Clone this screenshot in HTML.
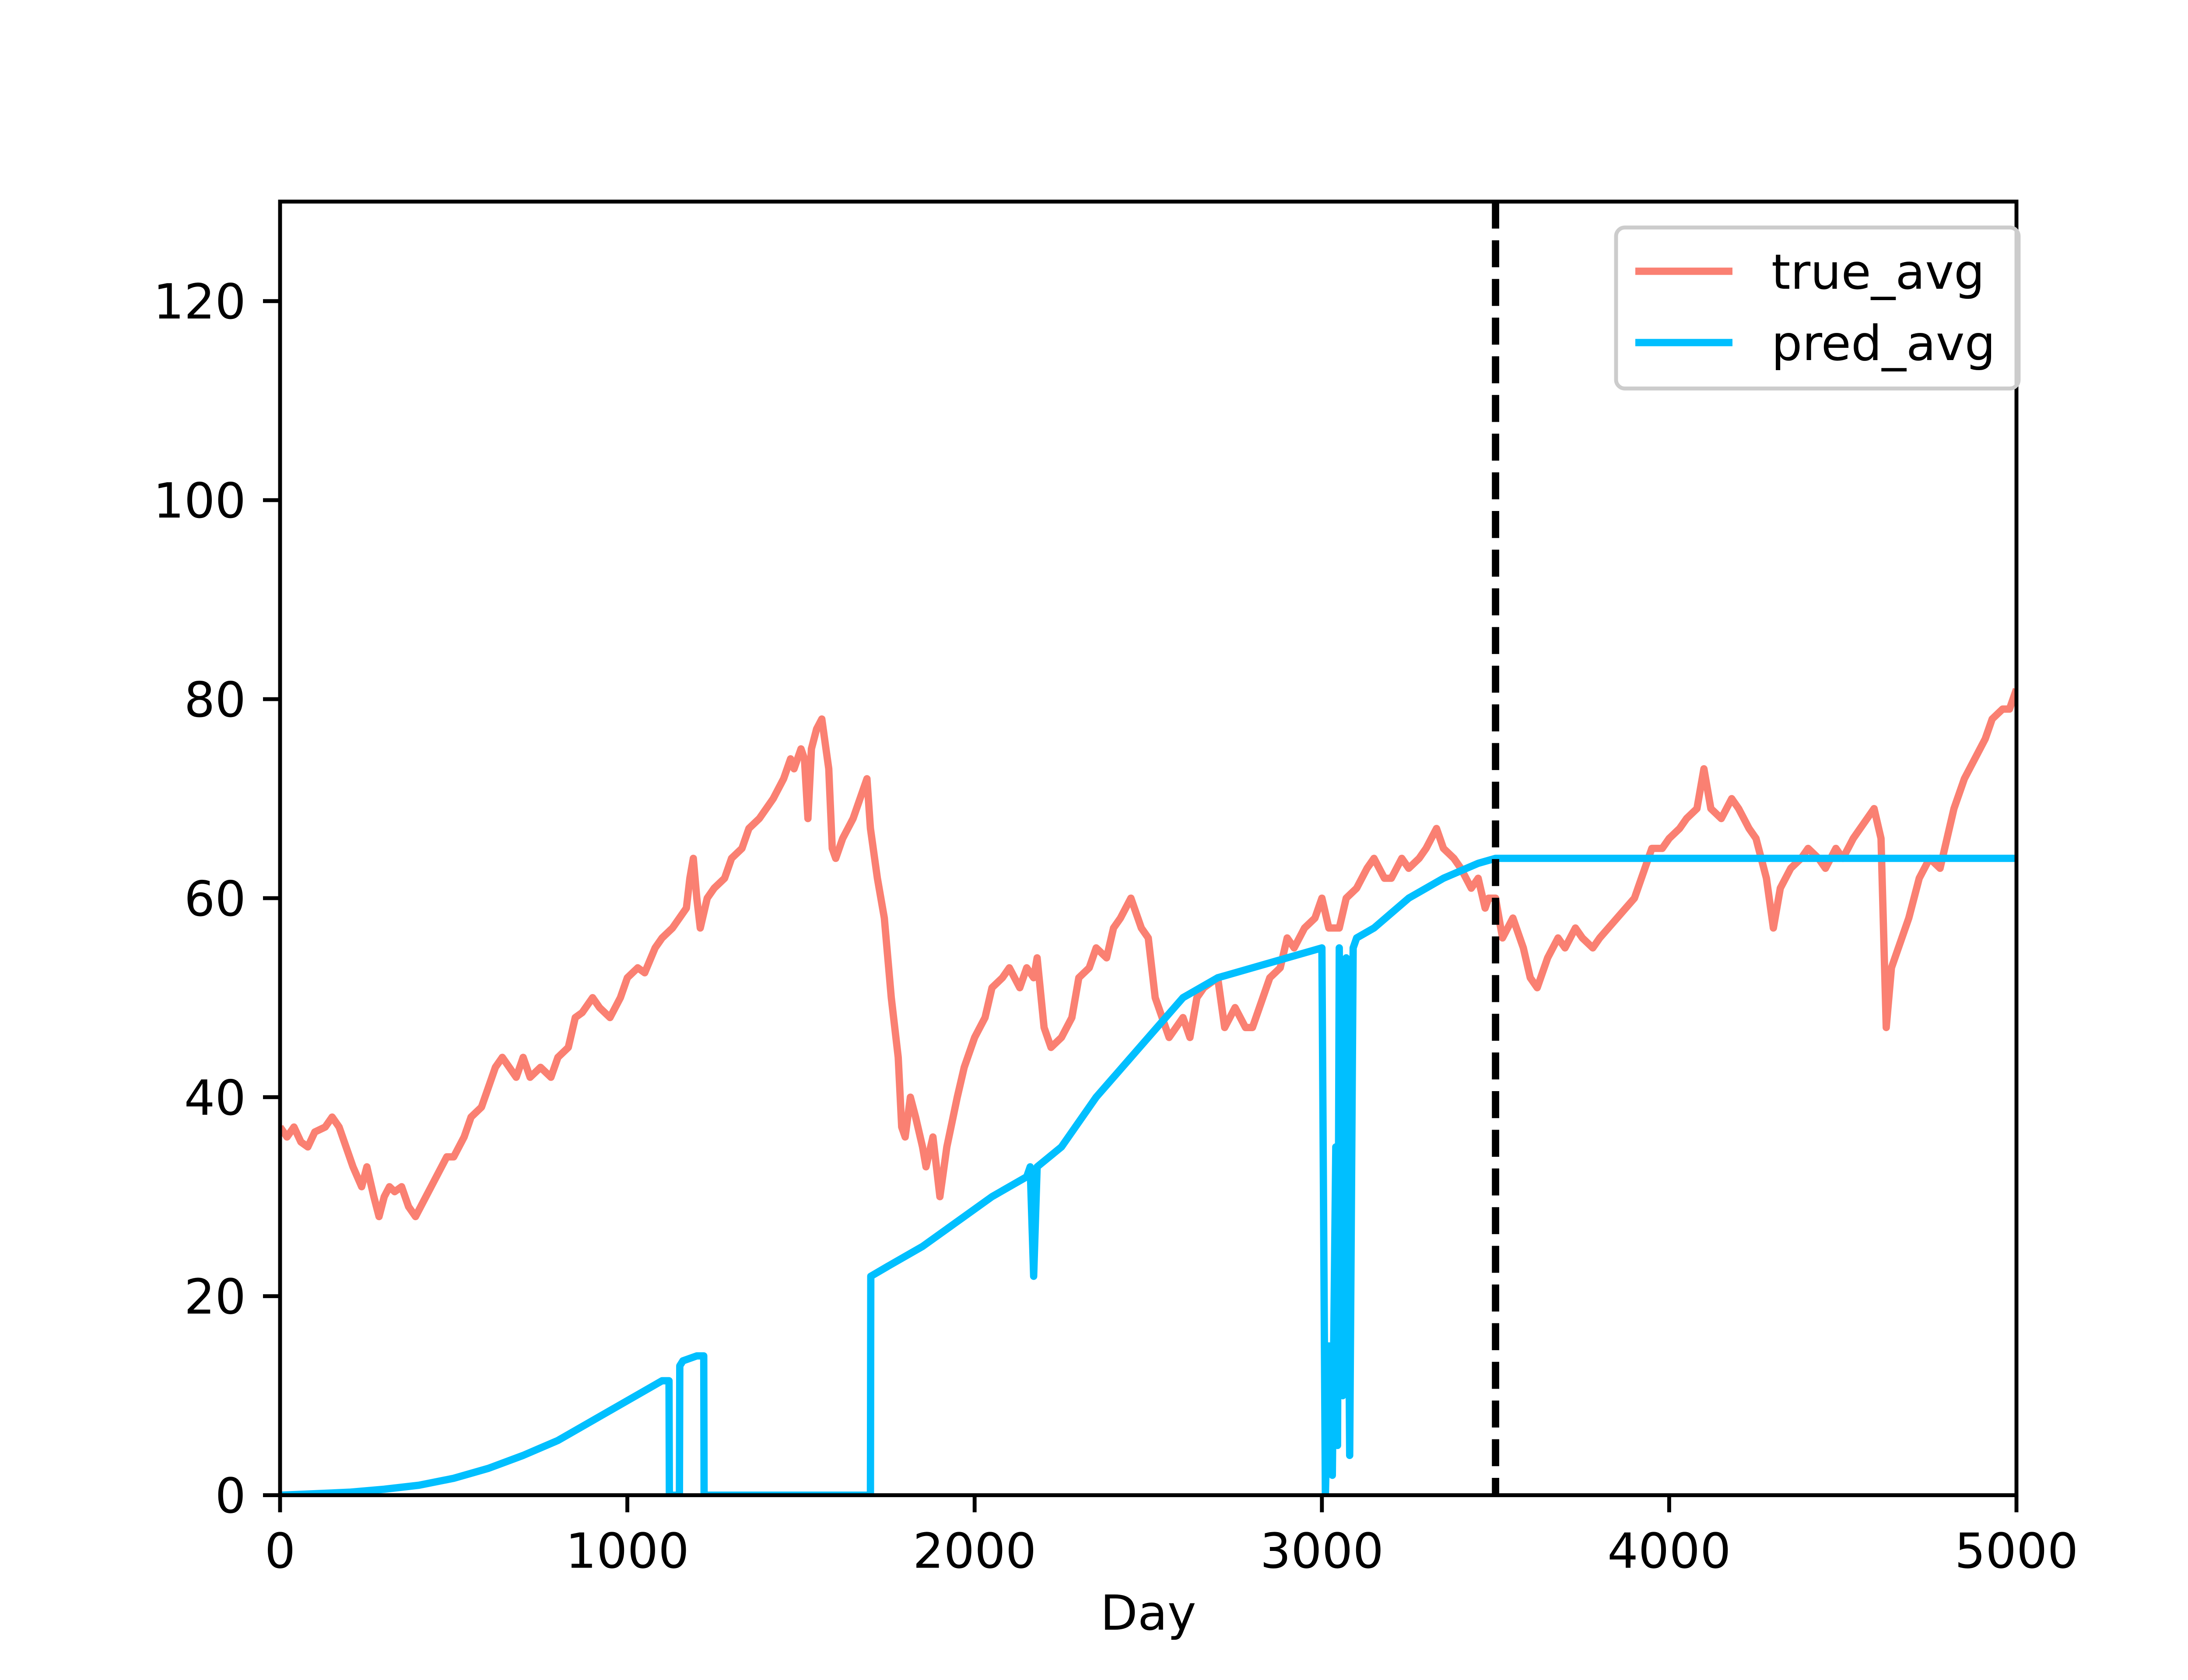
<!DOCTYPE html>
<html><head><meta charset="utf-8"><style>
html,body{margin:0;padding:0;background:#fff;}
svg{display:block;}
text{font-family:"DejaVu Sans","Liberation Sans",sans-serif;fill:#000;}
</style></head><body>
<svg id="chart" width="5120" height="3840" viewBox="0 0 5120 3840" xmlns="http://www.w3.org/2000/svg">
<rect x="0" y="0" width="5120" height="3840" fill="#fff"/>
<g id="plot"></g>
</svg>
<script>
const xTicks=[0,1000,2000,3000,4000,5000];
const yTicks=[0,20,40,60,80,100,120];
const trueDays=[
0,20,40,60,80,100,130,150,170,190,
210,235,250,270,285,300,315,330,350,370,
390,420,450,480,500,530,550,580,600,620,
640,660,680,700,720,750,780,800,830,850,
870,900,920,950,980,1000,1030,1050,1080,1100,
1130,1150,1170,1180,1190,1200,1210,1230,1250,1280,
1300,1330,1350,1380,1400,1420,1450,1470,1480,1500,
1510,1520,1530,1545,1560,1580,1590,1600,1620,1650,
1670,1690,1700,1720,1740,1760,1780,1790,1800,1815,
1830,1850,1860,1880,1900,1920,1950,1970,2000,2030,
2050,2080,2100,2130,2150,2170,2180,2200,2220,2250,
2280,2300,2330,2350,2380,2400,2420,2450,2470,2480,
2500,2520,2540,2560,2600,2620,2640,2660,2700,2720,
2750,2780,2800,2830,2850,2880,2900,2920,2950,2980,
3000,3020,3050,3070,3100,3130,3150,3180,3200,3230,
3250,3280,3300,3330,3350,3380,3400,3430,3450,3470,
3480,3500,3520,3550,3580,3600,3620,3650,3680,3700,
3730,3750,3780,3800,3850,3900,3930,3950,3980,4000,
4030,4050,4080,4100,4120,4150,4180,4200,4230,4250,
4280,4300,4320,4350,4380,4400,4430,4450,4480,4500,
4530,4550,4570,4590,4610,4625,4640,4660,4690,4720,
4750,4780,4800,4820,4850,4880,4910,4930,4960,4980,
5000];
const trueVals=[
37,36,37,35.5,35,36.5,37,38,37,35,
33,31,33,30,28,30,31,30.5,31,29,
28,30,32,34,34,36,38,39,41,43,
44,43,42,44,42,43,42,44,45,48,
48.5,50,49,48,50,52,53,52.5,55,56,
57,58,59,62,64,60,57,60,61,62,
64,65,67,68,69,70,72,74,73,75,
74,68,75,77,78,73,65,64,66,68,
70,72,67,62,58,50,44,37,36,40,
38,35,33,36,30,35,40,43,46,48,
51,52,53,51,53,52,54,47,45,46,
48,52,53,55,54,57,58,60,58,57,
56,50,48,46,48,46,50,51,52,47,
49,47,47,50,52,53,56,55,57,58,
60,57,57,60,61,63,64,62,62,64,
63,64,65,67,65,64,63,61,62,59,
60,60,56,58,55,52,51,54,56,55,
57,56,55,56,58,60,63,65,65,66,
67,68,69,73,69,68,70,69,67,66,
62,57,61,63,64,65,64,63,65,64,
66,67,68,69,66,47,53,55,58,62,
64,63,66,69,72,74,76,78,79,79,
81];
const predDays=[0,200,300,400,500,600,700,800,900,1000,1100,1120,1121,1150,1151,1160,1200,1220,1221,1700,1701,1750,1850,1950,2050,2150,2160,2170,2180,2250,2350,2450,2550,2600,2700,2800,2900,3000,3010,3020,3030,3040,3045,3050,3060,3070,3080,3090,3100,3150,3250,3350,3450,3500,4000,4500,5000];
const predVals=[0,0.3,0.6,1,1.7,2.7,4,5.5,7.5,9.5,11.5,11.5,0,0,13,13.5,14,14,0,0,22,23,25,27.5,30,32,33,22,33,35,40,44,48,50,52,53,54,55,0,15,2,35,5,55,10,54,4,55,56,57,60,62,63.5,64,64,64,64];

const NS="http://www.w3.org/2000/svg";
const L=640,R=4608,T=460.8,B=3417.6,XMAX=5000,YMAX=130;
const X=d=>L+(d/XMAX)*(R-L);
const Y=v=>B-(v/YMAX)*(B-T);
const g=document.getElementById('plot');
function mk(tag,attrs){const e=document.createElementNS(NS,tag);for(const k in attrs)e.setAttribute(k,attrs[k]);g.appendChild(e);return e;}

let el=mk('clipPath',{id:'clip'});
const cr=document.createElementNS(NS,'rect');cr.setAttribute('x',L);cr.setAttribute('y',T);cr.setAttribute('width',R-L);cr.setAttribute('height',B-T);el.appendChild(cr);

let p=mk('polyline',{points:trueDays.map((d,i)=>X(d)+','+Y(trueVals[i])).join(' '),fill:'none',stroke:'#fa8072','stroke-width':16.7,'stroke-linejoin':'round','clip-path':'url(#clip)'});


p=mk('polyline',{points:predDays.map((d,i)=>X(d)+','+Y(predVals[i])).join(' '),fill:'none',stroke:'#00bfff','stroke-width':16.7,'stroke-linejoin':'round','clip-path':'url(#clip)'});


p=mk('line',{x1:X(3500),x2:X(3500),y1:T,y2:B,stroke:'#000','stroke-width':16.7,'stroke-dasharray':'61.7 26.7'});


p=mk('rect',{x:L,y:T,width:R-L,height:B-T,fill:'none',stroke:'#000','stroke-width':8.9});


xTicks.forEach(t=>{
  let l=mk('line',{x1:X(t),x2:X(t),y1:B,y2:B+39,stroke:'#000','stroke-width':8.9});
  
  
  let tx=mk('text',{x:X(t),y:B+39+39+88,'font-size':111,'text-anchor':'middle'});tx.textContent=t;
  
  
});
yTicks.forEach(t=>{
  let l=mk('line',{x1:L-39,x2:L,y1:Y(t),y2:Y(t),stroke:'#000','stroke-width':8.9});
  
  
  let tx=mk('text',{x:L-39-39,y:Y(t)+40,'font-size':111,'text-anchor':'end'});tx.textContent=t;
  
  
});
let xt=mk('text',{x:(L+R)/2,y:3725,'font-size':111,'text-anchor':'middle'});xt.textContent='Day';


let lg=mk('rect',{x:3693,y:520,width:920,height:368,rx:20,fill:'#fff','fill-opacity':0.8,stroke:'#ccc','stroke-width':8.9});


[['true_avg','#fa8072',620],['pred_avg','#00bfff',783]].forEach(([n,c,y])=>{
  let l=mk('line',{x1:3737,x2:3959,y1:y,y2:y,stroke:c,'stroke-width':16.7});
  
  
  let tx=mk('text',{x:4048,y:y+40,'font-size':111});tx.textContent=n;
  
  
});
</script>
</body></html>
